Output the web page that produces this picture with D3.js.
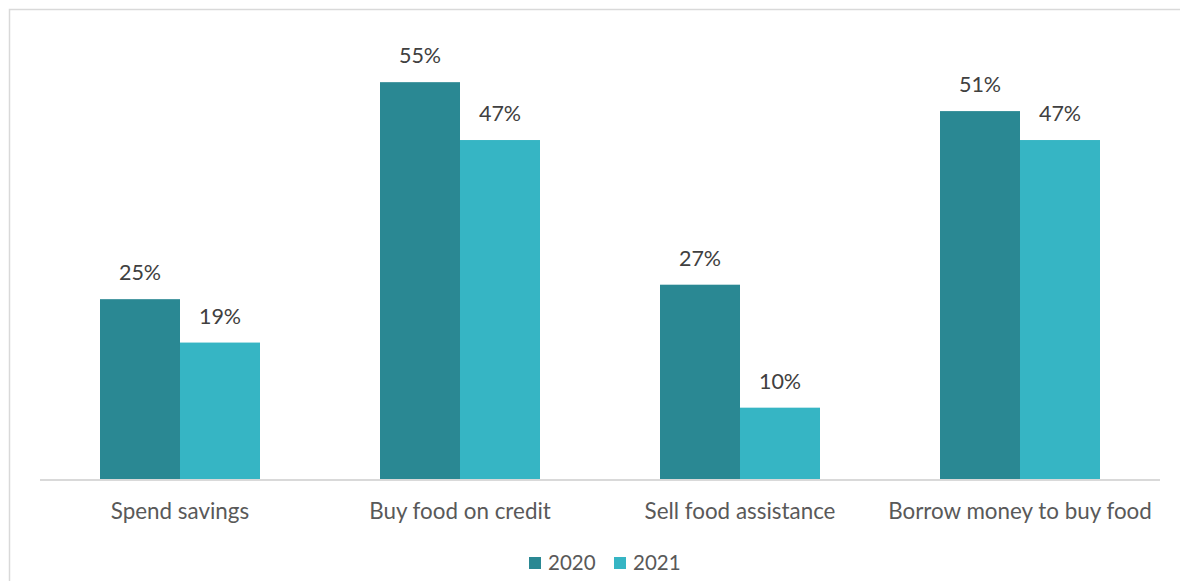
<!DOCTYPE html>
<html>
<head>
<meta charset="utf-8">
<script src="https://cdn.jsdelivr.net/npm/d3@7"></script>
<style>
  html, body { margin: 0; padding: 0; background: #fff; }
  svg { display: block; font-family: Lato, "Open Sans", sans-serif; }
</style>
</head>
<body>
<svg id="chart" width="1180" height="581"></svg>
<script>
// Coping strategies, share of households by year
const categories = ["Spend savings", "Buy food on credit", "Sell food assistance", "Borrow money to buy food"];
const seriesNames = ["2020", "2021"];
const values2020 = [25, 55, 27, 51];
const values2021 = [19, 47, 10, 47];
const seriesColors = ["#2a8893", "#36b5c4"];

const svg = d3.select("#chart");
const W = 1180, H = 581;
const fontFamily = "Lato, \"Open Sans\", sans-serif";

// outer frame
svg.append("rect")
  .attr("x", 9.5).attr("y", 9.5)
  .attr("width", W + 20).attr("height", H + 20)
  .attr("fill", "none").attr("stroke", "#d9d9d9").attr("stroke-width", 1.5);

const plot = { left: 40, right: 1160, top: 46, bottom: 480 };

const x0 = d3.scaleBand()
  .domain(categories)
  .range([plot.left, plot.right])
  .paddingInner(0).paddingOuter(0);

const groupFrac = 160 / 280;
const x1 = d3.scaleBand()
  .domain(seriesNames)
  .range([0, x0.bandwidth() * groupFrac]);

const y = d3.scaleLinear().domain([0, 60]).range([plot.bottom, plot.top]);

const rows = categories.map((c, i) => ({
  category: c,
  values: [
    { key: "2020", value: values2020[i] },
    { key: "2021", value: values2021[i] }
  ]
}));

const offset = (x0.bandwidth() - x0.bandwidth() * groupFrac) / 2;

const groups = svg.append("g").selectAll("g")
  .data(rows).join("g")
  .attr("transform", d => `translate(${x0(d.category) + offset},0)`);

groups.selectAll("rect")
  .data(d => d.values).join("rect")
  .attr("x", d => x1(d.key))
  .attr("y", d => y(d.value))
  .attr("width", x1.bandwidth())
  .attr("height", d => y(0) - y(d.value))
  .attr("fill", (d, i) => seriesColors[i]);

groups.selectAll("text")
  .data(d => d.values).join("text")
  .attr("x", d => x1(d.key) + x1.bandwidth() / 2)
  .attr("y", d => y(d.value) - 19)
  .attr("text-anchor", "middle")
  .attr("font-size", 21.5)
  .attr("fill", "#404040")
  .text(d => d.value + "%");

// category axis
const xAxis = svg.append("g")
  .attr("transform", `translate(0,${plot.bottom})`)
  .call(d3.axisBottom(x0).tickSize(0).tickPadding(23));
xAxis.select(".domain").attr("stroke", "#d9d9d9").attr("stroke-width", 2)
  .attr("d", `M${plot.left},0H${plot.right}`);
xAxis.selectAll("text")
  .attr("font-size", 22.4)
  .attr("font-family", fontFamily)
  .attr("fill", "#595959");

// legend
const legend = svg.append("g").attr("transform", "translate(529,563)");
const legendX = [0, 85];
seriesNames.forEach((name, i) => {
  const g = legend.append("g").attr("transform", `translate(${legendX[i]},0)`);
  g.append("rect").attr("x", 0).attr("y", -6).attr("width", 12).attr("height", 12)
    .attr("fill", seriesColors[i]);
  g.append("text").attr("x", 19).attr("y", 0).attr("dy", "0.35em")
    .attr("font-size", 20.5).attr("font-family", fontFamily)
    .attr("fill", "#595959").text(name);
});
</script>
</body>
</html>
